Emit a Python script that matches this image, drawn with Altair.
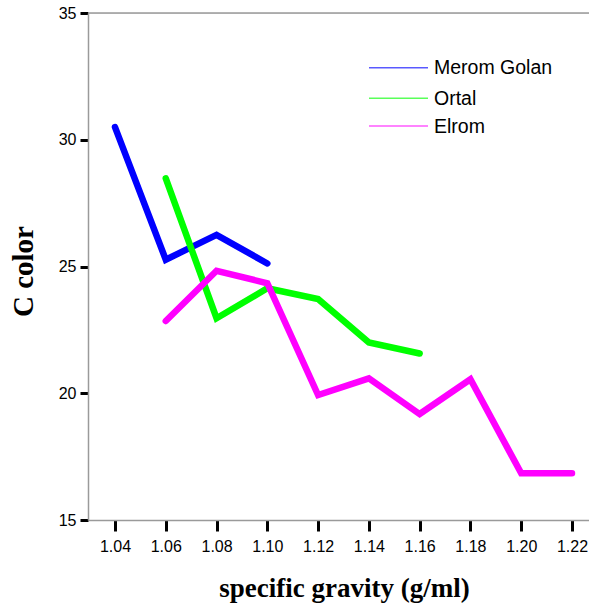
import altair as alt
import pandas as pd

# Specific gravity classes (g/ml) on the x axis
gravity = [1.04, 1.06, 1.08, 1.10, 1.12, 1.14, 1.16, 1.18, 1.20, 1.22]

# C color readings per site
series_names = ["Merom Golan", "Ortal", "Elrom"]
series_colors = ["#0000ff", "#00ff00", "#ff00ff"]
merom_golan = [30.5, 25.27, 26.25, 25.12]                          # 1.04 - 1.10
ortal = [28.48, 22.96, 24.14, 23.72, 22.0, 21.57]                  # 1.06 - 1.16
elrom = [22.85, 24.83, 24.34, 19.93, 20.59, 19.18, 20.55, 16.84, 16.84]  # 1.06 - 1.22

y_ticks = [15, 20, 25, 30, 35]

rows = []
for name, start, vals in [
    ("Merom Golan", 0, merom_golan),
    ("Ortal", 1, ortal),
    ("Elrom", 1, elrom),
]:
    for i, v in enumerate(vals):
        rows.append({"site": name, "gravity": gravity[start + i], "c_color": v})
df = pd.DataFrame(rows)

W, H = 501, 507
axis_gray = "#9a9a9a"

x_enc = alt.X(
    "gravity:Q",
    scale=alt.Scale(domain=[1.02937, 1.2267], nice=False, zero=False),
    axis=alt.Axis(
        values=gravity, format=".2f", grid=False,
        domainColor=axis_gray, domainWidth=1.5,
        tickColor="black", tickWidth=3, tickSize=11,
        labelFont="Liberation Sans", labelFontSize=16, labelColor="black",
        labelPadding=7, labelFlush=False,
        title="specific gravity (g/ml)", titleFont="Liberation Serif",
        titleFontSize=27, titleFontWeight="bold", titleColor="black",
        titleX=256, titleY=76, titleBaseline="alphabetic", titleAlign="center",
    ),
)
y_enc = alt.Y(
    "c_color:Q",
    scale=alt.Scale(domain=[15, 35], nice=False, zero=False),
    axis=alt.Axis(
        values=y_ticks, grid=False,
        domainColor=axis_gray, domainWidth=1.5,
        tickColor="black", tickWidth=3, tickSize=8,
        labelFont="Liberation Sans", labelFontSize=16, labelColor="black",
        labelPadding=4, labelFlush=False,
        title="C color", titleFont="Liberation Serif",
        titleFontSize=29, titleFontWeight="bold", titleColor="black",
        titleX=-56, titleY=258, titleAngle=-90,
        titleBaseline="alphabetic", titleAlign="center",
    ),
)

lines = alt.Chart(df).mark_line(
    strokeWidth=6.5, strokeCap="round", strokeJoin="miter"
).encode(
    x=x_enc,
    y=y_enc,
    color=alt.Color("site:N", scale=alt.Scale(domain=series_names, range=series_colors), legend=None),
    detail="site:N",
)

# frame line along the top of the plot
top_frame = alt.Chart(pd.DataFrame({"a": [0]})).mark_rule(
    color=axis_gray, strokeWidth=1.5
).encode(x=alt.value(0), x2=alt.value(W), y=alt.value(0))

# hand-placed legend in the upper right
legend_layers = []
legend_y = [54.7, 85.3, 113.0]
for name, col, ly in zip(series_names, series_colors, legend_y):
    d = pd.DataFrame({"site": [name]})
    legend_layers.append(
        alt.Chart(d).mark_rule(color=col, strokeWidth=1.5, opacity=0.65).encode(
            x=alt.value(281), x2=alt.value(340), y=alt.value(ly)
        )
    )
    legend_layers.append(
        alt.Chart(d).mark_text(
            align="left", baseline="middle", font="Liberation Sans",
            fontSize=19.5, color="black",
        ).encode(text="site:N", x=alt.value(346), y=alt.value(ly + 0.5))
    )

chart = alt.layer(top_frame, lines, *legend_layers).properties(
    width=W, height=H,
    autosize=alt.AutoSizeParams(type="none"),
    padding={"left": 88, "top": 13, "right": 0, "bottom": 84},
).configure_view(stroke=None).configure(background="white")

chart.save("out.html", embed_options={"renderer": "svg", "actions": False})
